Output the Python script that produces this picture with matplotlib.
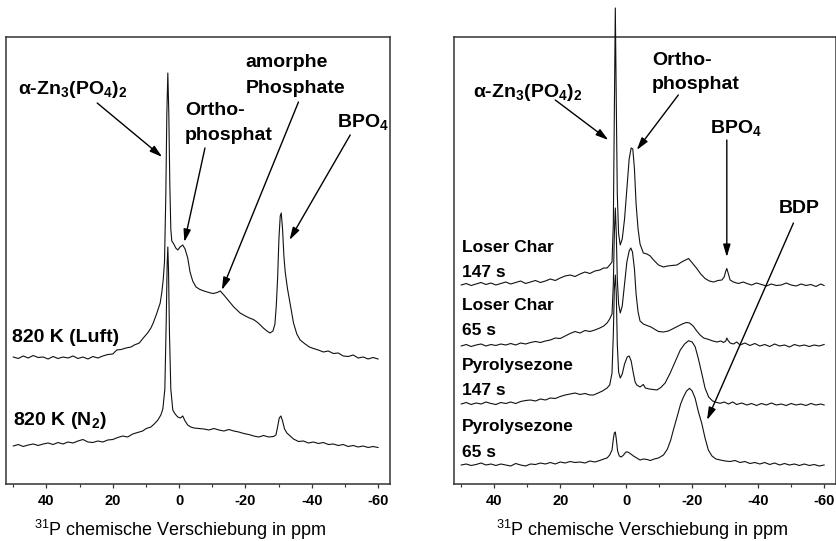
import numpy as np
import matplotlib
matplotlib.use("Agg")
import matplotlib.pyplot as plt
from matplotlib.ticker import MultipleLocator

plt.rcParams["font.family"] = "Liberation Sans"
plt.rcParams["axes.unicode_minus"] = False
plt.rcParams["mathtext.fontset"] = "custom"
plt.rcParams["mathtext.rm"] = "Liberation Sans"
plt.rcParams["mathtext.bf"] = "Liberation Sans:bold"
plt.rcParams["mathtext.it"] = "Liberation Sans:italic"

# --- 31P MAS NMR spectra (ppm, stacked intensity in a.u.) ---
# left: residues after 820 K in air / nitrogen
luft = [(50, 127), (48.5, 125.5), (47, 128), (45.5, 126), (44, 128.5), (42.5, 126.5), (41, 127),
        (39.5, 125), (38, 127.5), (36.5, 125.5), (35, 127), (33.5, 126), (32, 128), (30.5, 125.5),
        (29, 127), (27.5, 125), (26, 127.5), (24.5, 126), (23, 128), (21.5, 129.5), (20, 130),
        (18.8, 134), (17.5, 134.5), (16, 136), (14.5, 137), (13.5, 139), (12, 141), (10.8, 146),
        (9.5, 151), (8.5, 156), (7.8, 161), (6.8, 170), (5.7, 181), (5.2, 192), (4.8, 204),
        (4.4, 222), (4.0, 290), (3.7, 370), (3.4, 411), (3.1, 370), (2.8, 300), (2.5, 255),
        (2.2, 243), (1.6, 240), (1.0, 236), (0.4, 234), (-0.3, 237), (-1.1, 239), (-1.8, 235),
        (-2.6, 226), (-3.3, 212), (-4.1, 203), (-5.1, 197), (-6.3, 194.5), (-7.5, 193), (-8.5, 192),
        (-9.5, 191), (-10.3, 190.5), (-11.5, 191.5), (-12.4, 193), (-13.5, 189), (-15, 183),
        (-16.5, 177), (-18.4, 171), (-20, 168), (-21.2, 166), (-22.4, 164.5), (-23.5, 162),
        (-24.5, 159), (-25.4, 156), (-26.5, 153), (-27.4, 151), (-28.3, 153), (-28.9, 160),
        (-29.3, 178), (-29.7, 205), (-30.1, 245), (-30.5, 268), (-30.8, 271), (-31.2, 255),
        (-31.6, 228), (-32, 212), (-32.7, 195), (-33.5, 180), (-34.5, 161), (-35.5, 150),
        (-36.5, 144), (-38, 140), (-39.3, 137), (-40.5, 135.5), (-42, 134), (-43.5, 132),
        (-45, 133), (-46.5, 130.5), (-48, 131), (-49.5, 128), (-51, 127.5), (-52.5, 129),
        (-54, 126), (-55.5, 127), (-57, 125), (-58.5, 126.5), (-60, 125)]

n2 = [(50, 38), (48.5, 39.5), (47, 37.5), (45.5, 39), (44, 40), (42.5, 38.5), (41, 40), (39.5, 41),
      (38, 39.5), (36.5, 41.5), (35, 40), (33.5, 42), (32, 41), (30.5, 43), (29, 44.5), (27.5, 42),
      (26, 41.5), (24.5, 43), (23, 42), (21.5, 44), (20, 44.5), (18.5, 46.5), (17, 48), (15.5, 47),
      (14, 50), (12.5, 51.5), (11, 53), (9.9, 55.5), (8.5, 57), (7.5, 60), (6.4, 64), (5.5, 69),
      (4.9, 75), (4.3, 95), (3.9, 160), (3.6, 220), (3.4, 237), (3.2, 215), (2.9, 150), (2.5, 95),
      (1.9, 74), (1.2, 70), (0.4, 67), (-0.4, 66), (-1.1, 68), (-1.8, 63), (-2.6, 59), (-3.5, 57),
      (-4.5, 56), (-6, 55.5), (-7.5, 55), (-9, 54), (-10.5, 55.5), (-12, 54), (-13.5, 53),
      (-15, 54.5), (-16.5, 53), (-18, 52), (-19.5, 50.5), (-21, 49.5), (-22.5, 48), (-24, 47),
      (-25.5, 48.5), (-27, 47), (-28.5, 47.5), (-29.2, 49), (-29.7, 57), (-30.2, 66), (-30.7, 68),
      (-31.2, 63), (-31.8, 55), (-32.5, 51), (-33.5, 48), (-34.5, 45), (-36, 42.5), (-37.5, 43),
      (-39, 41), (-40.5, 42), (-42, 40.5), (-43.5, 41.5), (-45, 39.5), (-46.5, 40), (-48, 38.5),
      (-49.5, 39.5), (-51, 37.5), (-52.5, 38.5), (-54, 37), (-55.5, 38), (-57, 36.5),
      (-58.5, 37.5), (-60, 36.5)]

# right: loser Char / Pyrolysezone, 147 s and 65 s
lc147 = [(50, 199), (48.5, 200.5), (47, 198.5), (45.5, 200), (44, 201.5), (42.5, 199.5), (41, 201),
         (39.5, 199), (38, 200.5), (36.5, 202), (35, 200), (33.5, 201.5), (32, 203), (30.5, 200.5),
         (29, 202), (27.5, 203.5), (26, 201.5), (24.5, 203), (23, 205), (21.5, 203.5), (20, 206),
         (18.5, 208), (17, 209), (15.5, 207.5), (14, 210), (12.5, 212), (11, 210.5), (9.5, 213),
         (8, 214), (6.8, 216), (5.8, 216), (5, 219), (4.3, 222), (3.9, 260), (3.6, 370), (3.3, 476),
         (3.0, 380), (2.7, 290), (2.3, 250), (1.8, 239), (1.2, 245), (0.5, 265), (-0.2, 295),
         (-0.9, 325), (-1.5, 336), (-2.0, 335), (-2.5, 315), (-3.0, 280), (-3.6, 255), (-4.2, 240),
         (-5.2, 231), (-6.3, 230), (-7.3, 228), (-8.3, 224), (-9.8, 219), (-11.3, 217),
         (-12.5, 218), (-13.8, 218.5), (-15.4, 219), (-16.8, 222), (-18, 224), (-18.9, 225.5),
         (-19.8, 222), (-21.4, 215.5), (-22.6, 210), (-23.9, 205.5), (-25.2, 203), (-26.5, 202),
         (-27.8, 203.5), (-29, 204), (-29.7, 207), (-30.2, 213), (-30.5, 215.5), (-30.9, 211),
         (-31.5, 204), (-32.5, 202), (-34, 200.5), (-35.5, 202), (-36.6, 200.5), (-38, 199),
         (-39.5, 201), (-41, 199.5), (-42.5, 198), (-44, 200), (-45.5, 198.5), (-47, 199),
         (-48.5, 201), (-50, 199), (-51.5, 198), (-53, 200), (-54.5, 198.5), (-56, 199.5),
         (-57.5, 197.5), (-59, 200), (-60, 198.5)]

lc65 = [(50, 138), (48.5, 139.5), (47, 137.5), (45.5, 139), (44, 140), (42.5, 138), (41, 139.5),
        (39.5, 138.5), (38, 140), (36.5, 139), (35, 140.5), (33.5, 139), (32, 141), (30.5, 140),
        (29, 141.5), (27.5, 142.5), (26, 141.5), (24.5, 143), (23, 144), (21.5, 146), (20, 145.5),
        (18.5, 148), (17, 150.5), (15.5, 152.5), (14, 151), (12.5, 153.5), (11, 152.5), (9.5, 154),
        (8, 156), (6.8, 158), (5.8, 161), (5, 165), (4.3, 170), (3.9, 200), (3.6, 250), (3.3, 276),
        (3.0, 250), (2.7, 205), (2.3, 180), (1.8, 171), (1.2, 178), (0.5, 200), (-0.2, 222),
        (-0.9, 233), (-1.4, 236), (-1.9, 232), (-2.5, 215), (-3.0, 190), (-3.6, 172), (-4.2, 163),
        (-5.2, 160), (-6.3, 158.5), (-7.5, 157), (-8.5, 155), (-9.8, 152.5), (-11.3, 152),
        (-12.8, 153), (-14, 155), (-15.5, 157.5), (-17, 160), (-18.2, 161.5), (-19.2, 161),
        (-20.3, 158), (-21.4, 153), (-22.4, 149), (-23.5, 146), (-25, 144.5), (-26.3, 143),
        (-27.5, 142), (-28.7, 143), (-29.5, 141.5), (-30.2, 143), (-30.5, 146), (-30.9, 143.5),
        (-31.5, 141), (-32.5, 140), (-33.5, 142), (-34.5, 139), (-36, 141), (-37.5, 138.5),
        (-39, 140.5), (-40.5, 138), (-42, 139.5), (-43.5, 137.5), (-45, 140), (-46.5, 138),
        (-48, 139), (-49.5, 137), (-51, 139.5), (-52.5, 138), (-54, 139), (-55.5, 137.5),
        (-57, 139), (-58.5, 138), (-60, 139.5)]

py147 = [(50, 80), (48.5, 81.5), (47, 79.5), (45.5, 81), (44, 80), (42.5, 82), (41, 80.5),
         (39.5, 79.5), (38, 81.5), (36.5, 80.5), (35, 82), (33.5, 80.5), (32, 82.5), (30.5, 83.5),
         (29, 84), (27.5, 83), (26, 85), (24.5, 84), (23, 86), (21.5, 85.5), (20, 87.5), (18.5, 89),
         (17, 90), (15.5, 91), (14, 89.5), (12.5, 90.5), (11, 89), (9.9, 89), (8.5, 91), (7.2, 93),
         (5.8, 96), (5, 99), (4.3, 111), (3.9, 150), (3.6, 195), (3.3, 209), (3.0, 190), (2.7, 140),
         (2.3, 112), (1.8, 106), (1.2, 110), (0.5, 120), (-0.3, 127), (-0.9, 128), (-1.5, 123),
         (-2.1, 112), (-2.7, 102), (-3.2, 99), (-4.2, 97), (-5.2, 99.5), (-5.8, 96), (-7, 95),
         (-8.2, 94.5), (-9.3, 94), (-10.5, 96.5), (-11.8, 101), (-13.3, 110.7), (-14.8, 122),
         (-16.4, 134), (-17.7, 140), (-18.9, 143.3), (-20, 142), (-20.9, 137.3), (-21.9, 125),
         (-22.9, 110.7), (-23.9, 96), (-25, 87), (-26.2, 83), (-27.5, 81.5), (-28.5, 80.7),
         (-29.7, 82), (-31, 80), (-32.3, 82), (-33.5, 79.5), (-35, 81), (-36.6, 79), (-38, 80.5),
         (-39.5, 78.5), (-41, 80.5), (-42.5, 79), (-44, 81), (-45.5, 79), (-47, 80), (-48.5, 78.5),
         (-50, 80.5), (-51.5, 79), (-53, 80), (-54.5, 78.5), (-56, 80.5), (-57.5, 79), (-59, 80),
         (-60, 79)]

py65 = [(50, 19), (48.5, 20), (47, 18.5), (45.5, 19.5), (44, 21), (42.5, 19), (41, 20), (39.5, 18.5),
        (38, 20), (36.5, 19), (35, 18), (33.5, 20.5), (32, 19), (30.5, 18), (29, 20), (27.5, 19.5),
        (26, 21), (24.5, 20), (23, 21.5), (21.5, 20), (20, 22), (18.5, 21), (17, 22.5), (15.5, 21.5),
        (14, 22), (12.5, 21), (11, 23), (9.5, 22), (8, 23.5), (6.8, 25), (5.8, 26), (5, 29),
        (4.3, 34), (3.9, 45), (3.6, 51), (3.3, 52), (3.0, 45), (2.6, 33), (2.1, 28), (1.5, 27),
        (0.8, 29), (0.1, 32), (-0.5, 32), (-1.2, 30.5), (-2.2, 28), (-3.2, 26), (-4.2, 24),
        (-5.3, 25), (-6.3, 24.5), (-7.3, 23.5), (-8.5, 25), (-9.8, 26), (-11.3, 29), (-12.5, 35),
        (-13.5, 44), (-14.3, 54), (-15.5, 68), (-16.5, 80), (-17.4, 87.3), (-18.3, 93),
        (-19.2, 95.7), (-20, 93), (-20.9, 85.7), (-21.9, 72), (-22.9, 60.7), (-23.9, 46),
        (-24.9, 34), (-26, 28), (-27.2, 25), (-28.5, 24), (-30, 23), (-31.5, 22.5), (-33, 23.5),
        (-34.5, 21.5), (-36, 22.5), (-37.5, 20.5), (-39, 21.5), (-40.5, 20), (-42, 21.5),
        (-43.5, 19.5), (-45, 21), (-46.5, 19), (-48, 20.5), (-49.5, 19), (-51, 20), (-52.5, 18.5),
        (-54, 20), (-55.5, 18.5), (-57, 19.5), (-58.5, 18), (-60, 19)]

left_traces = [luft, n2]
right_traces = [lc147, lc65, py147, py65]

# sample labels: (text, ppm, baseline height)
left_labels = [("820 K (Luft)", 50.3, 142), (r"820 K (N$_{\mathbf{2}}$)", 50.0, 59)]
right_labels = [("Loser Char", 49.8, 232), ("147 s", 49.8, 207), ("Loser Char", 49.8, 174),
                ("65 s", 49.8, 149), ("Pyrolysezone", 49.8, 114), ("147 s", 49.8, 89),
                ("Pyrolysezone", 49.8, 53), ("65 s", 49.8, 27)]

zn = r"α-Zn$_{\mathbf{3}}$(PO$_{\mathbf{4}}$)$_{\mathbf{2}}$"
bpo4 = r"BPO$_{\mathbf{4}}$"
# peak assignments: text lines [(text, ppm, h)], arrow start, arrow tip
left_notes = [([(zn, 48.5, 390)], (24.7, 381), (5.1, 327)),
              ([("Ortho-", -1.8, 369), ("phosphat", -1.8, 344)], (-7.8, 336), (-1.6, 242)),
              ([("amorphe", -20.1, 417), ("Phosphate", -20.1, 391)], (-36, 382), (-12.9, 194)),
              ([(bpo4, -47.5, 357)], (-51.6, 349), (-33.3, 244))]
right_notes = [([(zn, 46.3, 387)], (21.5, 384), (5.4, 344)),
               ([("Ortho-", -7.8, 419), ("phosphat", -7.8, 395)], (-15.8, 389), (-3.2, 334)),
               ([(bpo4, -25.5, 351)], (-30.5, 344), (-30.5, 227)),
               ([("BDP", -46.2, 271)], (-50.7, 261), (-24.5, 64))]

xlabel = "$^{31}$P chemische Verschiebung in ppm"

fig = plt.figure(figsize=(8.37, 5.41), dpi=100)
ax_l = fig.add_axes([6 / 837, 57 / 541, 384 / 837, 447 / 541])
ax_r = fig.add_axes([454 / 837, 57 / 541, 382 / 837, 447 / 541])


def draw_panel(ax, traces, labels, notes, label_size):
    for tr in traces:
        ppm, inten = np.array(tr).T
        ax.plot(ppm, inten, color="#111111", lw=0.8, clip_on=False, zorder=3)

    ax.set_xlim(52.2, -63.6)
    ax.set_ylim(0, 447)
    ax.xaxis.set_major_locator(MultipleLocator(20))
    ax.xaxis.set_minor_locator(MultipleLocator(10))
    ax.tick_params(axis="x", which="major", direction="out", length=3, width=0.9,
                   pad=4, labelsize=10.5, color="#333333")
    ax.tick_params(axis="x", which="minor", direction="out", length=2, width=0.8, color="#333333")
    ax.set_yticks([])
    plt.setp(ax.get_xticklabels(), fontweight="bold")
    for sp in ax.spines.values():
        sp.set_color("#333333")
        sp.set_linewidth(1.1)

    for txt, x, y in labels:
        ax.text(x, y, txt, fontsize=label_size, fontweight="bold", ha="left", va="baseline")

    for lines, start, tip in notes:
        for txt, x, y in lines:
            ax.text(x, y, txt, fontsize=14, fontweight="bold", ha="left", va="baseline")
        ax.annotate("", xy=tip, xytext=start,
                    arrowprops=dict(arrowstyle="-|>,head_length=0.75,head_width=0.22",
                                    color="black", lw=1.0, shrinkA=0, shrinkB=0,
                                    mutation_scale=10))


draw_panel(ax_l, left_traces, left_labels, left_notes, 14)
draw_panel(ax_r, right_traces, right_labels, right_notes, 12.5)

fig.text(180 / 837, 1 - 530 / 541, xlabel, fontsize=13, ha="center", va="center")
fig.text(642 / 837, 1 - 530 / 541, xlabel, fontsize=13, ha="center", va="center")

fig.savefig("out.png", dpi=100)
